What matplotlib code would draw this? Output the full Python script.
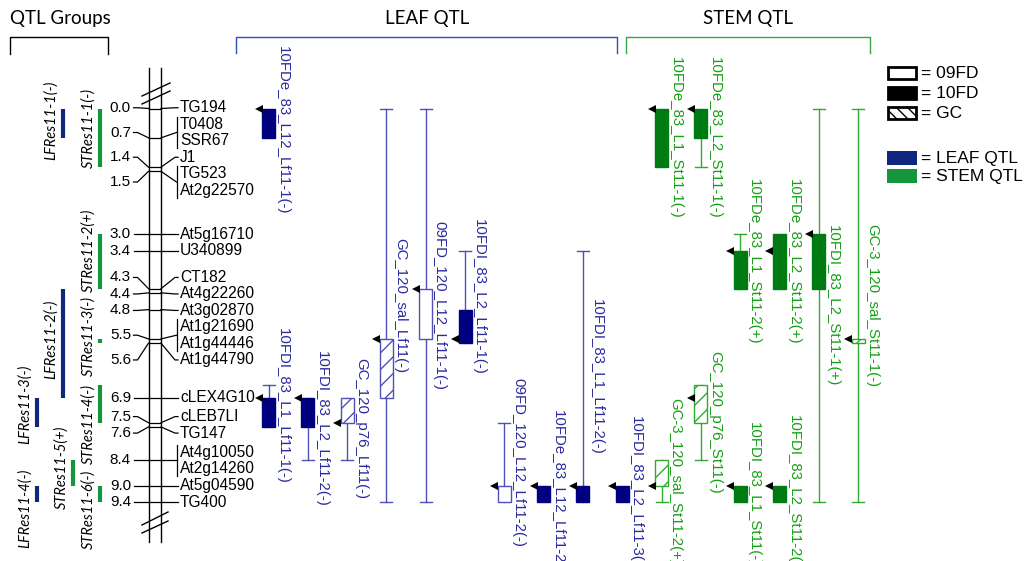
import matplotlib
matplotlib.use("Agg")
import matplotlib.pyplot as plt
from matplotlib.patches import Rectangle
import numpy as np

# ---------------- data ----------------
marker_names = ["TG194", "T0408", "SSR67", "J1", "TG523", "At2g22570",
                "At5g16710", "U340899", "CT182", "At4g22260", "At3g02870",
                "At1g21690", "At1g44446", "At1g44790", "cLEX4G10", "cLEB7LI",
                "TG147", "At4g10050", "At2g14260", "At5g04590", "TG400"]
marker_cm = [0.0, 0.7, 0.7, 1.4, 1.5, 1.5,
             3.0, 3.4, 4.3, 4.4, 4.8,
             5.5, 5.5, 5.6, 6.9, 7.5,
             7.6, 8.4, 8.4, 9.0, 9.4]

qtl_labels = ["10FDe_83_L12_Lf11-1(-)", "10FDI_83_L1_Lf11-1(-)", "10FDI_83_L2_Lf11-2(-)",
              "GC_120_p76_Lf11(-)", "GC_120_sal_Lf11(-)", "09FD_120_L12_Lf11-1(-)",
              "10FDI_83_L2_Lf11-1(-)", "09FD_120_L12_Lf11-2(-)", "10FDe_83_L12_Lf11-2(-)",
              "10FDI_83_L1_Lf11-2(-)", "10FDI_83_L2_Lf11-3(-)",
              "10FDe_83_L1_St11-1(-)", "10FDe_83_L2_St11-1(-)", "10FDe_83_L1_St11-2(+)",
              "10FDe_83_L2_St11-2(+)", "10FDI_83_L2_St11-1(+)", "GC-3_120_sal_St11-1(-)",
              "GC_120_p76_St11(-)", "GC-3_120_sal_St11-2(+)", "10FDI_83_L1_St11(-)",
              "10FDI_83_L2_St11-2(-)"]
qtl_trait = ["leaf"] * 11 + ["stem"] * 10
qtl_trial = ["10FD", "10FD", "10FD", "GC", "GC", "09FD", "10FD", "09FD", "10FD", "10FD", "10FD",
             "10FD", "10FD", "10FD", "10FD", "10FD", "GC", "GC", "GC", "10FD", "10FD"]
qtl_box_lo = [0.0, 6.9, 6.9, 6.9, 5.5, 4.3, 4.8, 9.0, 9.0, 9.0, 9.0,
              0.0, 0.0, 3.4, 3.0, 3.0, 5.5, 6.6, 8.4, 9.0, 9.0]
qtl_box_hi = [0.7, 7.6, 7.6, 7.5, 6.9, 5.5, 5.6, 9.4, 9.4, 9.4, 9.4,
              1.4, 0.7, 4.3, 4.3, 4.3, 5.6, 7.5, 9.0, 9.4, 9.4]
qtl_ci_lo = [0.0, 6.6, 6.9, 6.9, 0.0, 0.0, 3.4, 7.5, 9.0, 3.4, 9.0,
             0.0, 0.0, 3.0, 3.0, 0.0, 0.0, 6.6, 8.4, 9.0, 9.0]
qtl_ci_hi = [0.7, 7.6, 8.4, 8.4, 9.4, 9.4, 5.6, 9.4, 9.4, 9.4, 9.4,
             1.4, 1.4, 4.3, 4.3, 9.4, 9.4, 8.4, 9.4, 9.4, 9.4]
qtl_peak = [0.0, 6.9, 6.9, 7.5, 5.5, 4.3, 5.5, 9.0, 9.0, 9.0, 9.0,
            0.0, 0.0, 3.4, 3.4, 3.0, 5.5, 6.9, 9.0, 9.0, 9.0]

group_names = ["LFRes11-1(-)", "STRes11-1(-)", "STRes11-2(+)", "LFRes11-2(-)", "STRes11-3(-)",
               "STRes11-4(-)", "LFRes11-3(-)", "STRes11-5(+)", "LFRes11-4(-)", "STRes11-6(-)"]
group_trait = ["leaf", "stem", "stem", "leaf", "stem", "stem", "leaf", "stem", "leaf", "stem"]
group_lo = [0.0, 0.0, 3.0, 4.3, 5.5, 6.6, 6.9, 8.4, 9.0, 9.0]
group_hi = [0.7, 1.4, 4.3, 6.9, 5.6, 7.5, 7.6, 9.0, 9.4, 9.4]

legend_trials = ["09FD", "10FD", "GC"]
legend_traits = ["LEAF QTL", "STEM QTL"]

# ---------------- layout / style ----------------
W, H = 1029, 561
Y0, S = 108.5, 41.9          # pixel of 0 cM, pixels per cM
qtl_lane = [0, 0, 1, 2, 3, 4, 5, 6, 7, 8, 9,
            10, 11, 12, 13, 14, 15, 11, 10, 12, 13]
qtl_lab_dy = [7, 0, 0, 0, 0, 0, 0, 0, 0, 0, 0,
              0, 0, 0, 0, 0, 0, 0, 0, 0, 0]
LANE0, LANE_STEP, BOXW = 268.5, 39.3, 13.0
group_x = [63, 100, 100, 63, 100, 100, 37, 73, 37, 100]
group_lab_dy = [-3, -10, -11, -4, -5, 20, -8, -6, 14, 15]

NAVY = "#000080"
GREEN = "#007a12"
LEAF_TXT, LEAF_LINE = "#2a2aa0", "#5050b8"
STEM_TXT, STEM_LINE = "#14a014", "#30aa30"
GRP_LEAF, GRP_STEM = "#10277f", "#15963a"
FONT = "Liberation Sans"
HFONT = "Lato"

plt.rcParams["hatch.linewidth"] = 1.0

fig = plt.figure(figsize=(W / 100, H / 100), dpi=100)
deco = fig.add_axes([0, 0, 1, 1])
deco.set_xlim(0, W); deco.set_ylim(H, 0); deco.axis("off")
ax = fig.add_axes([0, 0, 1, 1])
ax.set_xlim(0, W); ax.set_ylim((H - Y0) / S, -Y0 / S); ax.axis("off")
ax.patch.set_alpha(0)

# ---------------- chromosome ----------------
CL, CR = 148.5, 161.0
for xx in (CL, CR):
    deco.plot([xx, xx], [68, 542], color="black", lw=1.0)
for (x1, y1, x2, y2) in [(142, 96, 170, 83), (142, 104, 170, 91),
                         (142, 525, 168, 512), (142, 533, 168, 521)]:
    deco.plot([x1, x2], [y1, y2], color="black", lw=1.0)

# spread marker name labels
gap = 16.5 / S
desired = np.array(marker_cm, dtype=float)
clusters = [[i] for i in range(len(desired))]


def cl_pos(c):
    m = desired[c].mean()
    n = len(c)
    return [m + (k - (n - 1) / 2) * gap for k in range(n)]


changed = True
while changed:
    changed = False
    for j in range(len(clusters) - 1):
        a, b = cl_pos(clusters[j]), cl_pos(clusters[j + 1])
        if b[0] - a[-1] < gap - 1e-9:
            clusters[j] = clusters[j] + clusters[j + 1]
            del clusters[j + 1]
            changed = True
            break
name_pos = np.zeros(len(desired))
for c in clusters:
    for i, p in zip(c, cl_pos(c)):
        name_pos[i] = p

uniq = sorted(set(marker_cm))
for u in uniq:
    idx = [i for i, v in enumerate(marker_cm) if v == u]
    ly = np.mean(name_pos[idx])
    ax.text(131, ly, f"{u:.1f}", ha="right", va="center", fontsize=11.0, family=FONT)
    ax.plot([133.5, 137.5, CL], [ly, ly, u], color="black", lw=0.9)
    ax.plot([CL, CR], [u, u], color="black", lw=0.9)
    if len(idx) == 1:
        ax.plot([CR, 175, 178], [u, name_pos[idx[0]], name_pos[idx[0]]], color="black", lw=0.9)
    else:
        top = name_pos[idx[0]] - 7.5 / S
        bot = name_pos[idx[-1]] + 7.5 / S
        ax.plot([CR, 176.5], [u, ly], color="black", lw=0.9)
        ax.plot([176.5, 176.5], [top, bot], color="black", lw=0.9)
    for i in idx:
        ax.text(180, name_pos[i], marker_names[i], ha="left", va="center",
                fontsize=11.2, family=FONT)

# ---------------- QTL bars ----------------
for i, lab in enumerate(qtl_labels):
    leaf = qtl_trait[i] == "leaf"
    txt_c = LEAF_TXT if leaf else STEM_TXT
    line_c = LEAF_LINE if leaf else STEM_LINE
    solid = NAVY if leaf else GREEN
    xc = LANE0 + LANE_STEP * qtl_lane[i]
    x0 = xc - BOXW / 2
    lo, hi = qtl_box_lo[i], qtl_box_hi[i]
    clo, chi = qtl_ci_lo[i], qtl_ci_hi[i]
    if clo < lo or chi > hi:
        ax.plot([xc, xc], [clo, chi], color=line_c, lw=1.0, zorder=2)
        for e in set([clo if clo < lo else None, chi if chi > hi else None]) - {None}:
            ax.plot([xc - 6, xc + 6], [e, e], color=line_c, lw=1.0, zorder=2)
    if qtl_trial[i] == "10FD":
        r = Rectangle((x0, lo), BOXW, hi - lo, facecolor=solid, edgecolor=solid, lw=1.0, zorder=3)
    elif qtl_trial[i] == "09FD":
        r = Rectangle((x0, lo), BOXW, hi - lo, facecolor="white", edgecolor=line_c, lw=1.0, zorder=3)
    else:
        r = Rectangle((x0, lo), BOXW, hi - lo, facecolor="white", edgecolor=line_c, lw=1.0,
                      hatch="//", zorder=3)
    ax.add_patch(r)
    ax.plot([x0 - 3.5], [qtl_peak[i]], marker="<", color="black", markersize=6,
            markeredgewidth=0, zorder=4)
    yc = (min(lo, clo) + max(hi, chi)) / 2 + qtl_lab_dy[i] / S
    ax.text(x0 + BOXW + 7.5, yc, lab, rotation=270, ha="center", va="center",
            fontsize=10.8, family=FONT, color=txt_c, zorder=5)

# ---------------- QTL groups ----------------
for i, g in enumerate(group_names):
    c = GRP_LEAF if group_trait[i] == "leaf" else GRP_STEM
    ax.plot([group_x[i], group_x[i]], [group_lo[i], group_hi[i]], color=c, lw=3.0,
            solid_capstyle="butt")
    yc = (group_lo[i] + group_hi[i]) / 2 + group_lab_dy[i] / S
    ax.text(group_x[i] - 12, yc, g, rotation=90, ha="center", va="center",
            fontsize=10.5, family=HFONT, style="italic", color="black")

# ---------------- headers ----------------
deco.text(10, 18, "QTL Groups", ha="left", va="center", fontsize=13.5, family=HFONT)
deco.text(427, 18, "LEAF QTL", ha="center", va="center", fontsize=13.5, family=HFONT)
deco.text(748, 18, "STEM QTL", ha="center", va="center", fontsize=13.5, family=HFONT)
deco.plot([10, 10, 108, 108], [54, 37, 37, 54], color="black", lw=1.0)
deco.plot([236, 236, 617, 617], [53, 37, 37, 53], color="#3050b0", lw=1.0)
deco.plot([626, 626, 870, 870], [53, 37, 37, 53], color="#30aa40", lw=1.0)

# ---------------- legend ----------------
leg_y = [73, 93, 113]
styles = [dict(facecolor="white", edgecolor="black"),
          dict(facecolor="black", edgecolor="black"),
          dict(facecolor="white", edgecolor="black", hatch="\\\\\\")]
for t, yy, st in zip(legend_trials, leg_y, styles):
    deco.add_patch(Rectangle((888, yy - 6), 28, 12, lw=2.0, **st))
    deco.text(921, yy, "= " + t, ha="left", va="center", fontsize=12.5, family=FONT)
for t, yy, c in zip(legend_traits, [158, 176], [GRP_LEAF, GRP_STEM]):
    deco.add_patch(Rectangle((887, yy - 7), 30, 14, lw=0, facecolor=c))
    deco.text(921, yy, "= " + t, ha="left", va="center", fontsize=12.5, family=FONT)

fig.savefig("out.png", dpi=100)
